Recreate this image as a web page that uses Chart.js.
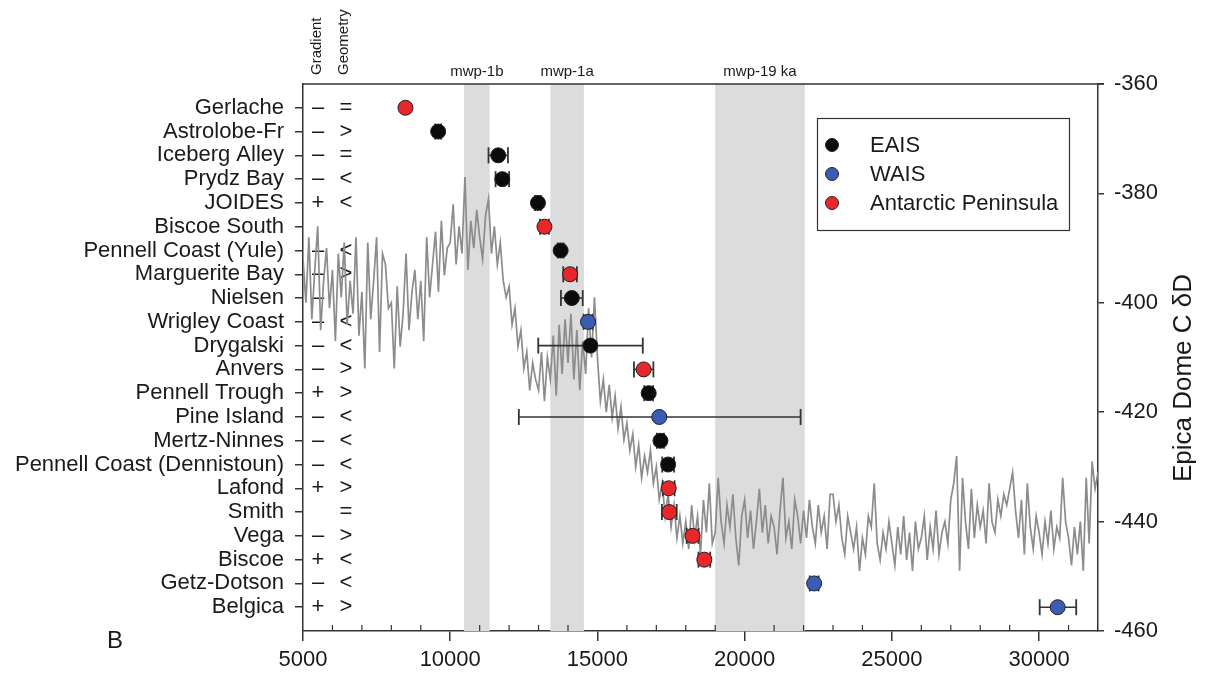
<!DOCTYPE html>
<html>
<head>
<meta charset="utf-8">
<script src="https://cdn.jsdelivr.net/npm/chart.js@4.4.1/dist/chart.umd.min.js"></script>
<style>
    html, body { margin: 0; padding: 0; background: #fff; }
    #wrap { width: 1211px; height: 677px; }
</style>
</head>
<body>
<div id="wrap"><canvas id="RetreatChart" width="1211" height="677"></canvas></div>
<script>
// sites, top to bottom
const sites = ["Gerlache", "Astrolobe-Fr", "Iceberg Alley", "Prydz Bay", "JOIDES", "Biscoe South",
    "Pennell Coast (Yule)", "Marguerite Bay", "Nielsen", "Wrigley Coast", "Drygalski", "Anvers",
    "Pennell Trough", "Pine Island", "Mertz-Ninnes", "Pennell Coast (Dennistoun)", "Lafond", "Smith",
    "Vega", "Biscoe", "Getz-Dotson", "Belgica"];
const siteRegion = ["AP", "EAIS", "EAIS", "EAIS", "EAIS", "AP", "EAIS", "AP", "EAIS", "WAIS", "EAIS", "AP",
    "EAIS", "WAIS", "EAIS", "EAIS", "AP", "AP", "AP", "AP", "WAIS", "WAIS"];
const siteAge = [8480, 9590, 11630, 11770, 12980, 13200, 13750, 14070, 14130, 14680, 14760, 16570,
    16740, 17100, 17140, 17400, 17420, 17440, 18230, 18630, 22360, 30630];
const errMinus = [0, 100, 330, 230, 100, 150, 100, 230, 370, 150, 1770, 330, 150, 4770, 120, 200, 200, 250, 200, 200, 150, 610];
const errPlus = [0, 100, 330, 230, 100, 150, 100, 230, 370, 150, 1780, 330, 150, 4800, 120, 200, 200, 250, 200, 200, 150, 630];
const gradient = ["–", "–", "–", "–", "+", "", "–", "–", "–", "–", "–", "–", "+", "–", "–", "–", "+", "", "–", "+", "–", "+"];
const geometry = ["=", ">", "=", "<", "<", "", "<", ">", "", "<", "<", ">", ">", "<", "<", "<", ">", "=", ">", "<", "<", ">"];

const regionKeys = ["EAIS", "WAIS", "AP"];
const regionNames = ["EAIS", "WAIS", "Antarctic Peninsula"];
const regionColors = ["#0b0b0b", "#3b5cb4", "#e8272b"];

// meltwater pulses
const bandStart = [10470, 13400, 19000];
const bandEnd = [11340, 14540, 22040];
const bandLabels = ["mwp-1b", "mwp-1a", "mwp-19 ka"];

// Epica Dome C deuterium record
const epicaAge = [
    5000, 5100, 5200, 5300, 5400, 5500, 5600, 5700, 5800, 5900,
    6000, 6100, 6200, 6300, 6400, 6500, 6600, 6700, 6800, 6900,
    7000, 7100, 7200, 7300, 7400, 7500, 7600, 7700, 7800, 7900,
    8000, 8100, 8200, 8300, 8400, 8500, 8600, 8700, 8800, 8900,
    9000, 9100, 9200, 9300, 9400, 9500, 9600, 9700, 9800, 9900,
    10000, 10100, 10200, 10300, 10400, 10500, 10600, 10700, 10800, 10900,
    11000, 11100, 11200, 11300, 11400, 11500, 11600, 11700, 11800, 11900,
    12000, 12100, 12200, 12300, 12400, 12500, 12600, 12700, 12800, 12900,
    13000, 13100, 13200, 13300, 13400, 13500, 13600, 13700, 13800, 13900,
    14000, 14100, 14200, 14300, 14400, 14500, 14600, 14700, 14800, 14900,
    15000, 15100, 15200, 15300, 15400, 15500, 15600, 15700, 15800, 15900,
    16000, 16100, 16200, 16300, 16400, 16500, 16600, 16700, 16800, 16900,
    17000, 17100, 17200, 17300, 17400, 17500, 17600, 17700, 17800, 17900,
    18000, 18100, 18200, 18300, 18400, 18500, 18600, 18700, 18800, 18900,
    19000, 19100, 19200, 19300, 19400, 19500, 19600, 19700, 19800, 19900,
    20000, 20100, 20200, 20300, 20400, 20500, 20600, 20700, 20800, 20900,
    21000, 21100, 21200, 21300, 21400, 21500, 21600, 21700, 21800, 21900,
    22000, 22100, 22200, 22300, 22400, 22500, 22600, 22700, 22800, 22900,
    23000, 23100, 23200, 23300, 23400, 23500, 23600, 23700, 23800, 23900,
    24000, 24100, 24200, 24300, 24400, 24500, 24600, 24700, 24800, 24900,
    25000, 25100, 25200, 25300, 25400, 25500, 25600, 25700, 25800, 25900,
    26000, 26100, 26200, 26300, 26400, 26500, 26600, 26700, 26800, 26900,
    27000, 27100, 27200, 27300, 27400, 27500, 27600, 27700, 27800, 27900,
    28000, 28100, 28200, 28300, 28400, 28500, 28600, 28700, 28800, 28900,
    29000, 29100, 29200, 29300, 29400, 29500, 29600, 29700, 29800, 29900,
    30000, 30100, 30200, 30300, 30400, 30500, 30600, 30700, 30800, 30900,
    31000, 31100, 31200, 31300, 31400, 31500, 31600, 31700, 31800, 31900,
    32000];
const epicaDD = [
    -392, -400, -388, -403, -394, -386, -405, -396, -390, -401,
    -394, -407, -391, -399, -389, -404, -396, -402, -388, -406,
    -398, -412, -389, -403, -396, -388, -409, -391, -393, -401,
    -400, -412, -397, -408, -402, -391, -405, -398, -394, -403,
    -396, -407, -388, -399, -393, -387, -398, -385, -395, -390,
    -389, -382, -393, -386, -391, -377, -394, -385, -390, -383,
    -388, -392, -384, -381, -391, -386, -393, -389, -396, -399,
    -397, -404, -401, -408, -405, -412, -409, -416, -411, -414,
    -416, -409, -418, -410, -414, -406, -417, -404, -413, -403,
    -411, -402, -414, -405, -416, -407, -413, -401, -410, -399,
    -410, -418, -414, -420, -415, -421, -417, -423, -419, -425,
    -422, -427, -424, -430, -426, -432, -428, -431, -427, -433,
    -430, -436, -433, -439, -435, -441, -437, -443, -439, -444,
    -440, -445, -437, -443, -439, -446, -436, -442, -433, -444,
    -442, -432, -440, -444, -437, -441, -435, -443, -448, -439,
    -436, -443, -438, -445, -440, -434, -442, -437, -444, -439,
    -441, -446, -438, -432, -443, -440, -445, -436, -439, -444,
    -438, -443, -436, -441, -444, -437, -442, -439, -445, -435,
    -435, -440, -437, -443, -446, -439, -442, -445, -441, -449,
    -443, -446, -439, -441, -433, -444, -447, -442, -445, -440,
    -444, -448, -441, -446, -439, -447, -442, -449, -440, -445,
    -443, -439, -447, -441, -445, -438, -446, -442, -440, -444,
    -436, -433, -428, -449, -432, -440, -445, -434, -443, -437,
    -441, -438, -444, -433, -440, -442, -436, -439, -435, -437,
    -434, -431, -438, -443, -436, -446, -433, -441, -445, -439,
    -442, -446, -440, -444, -438, -445, -441, -443, -432, -440,
    -443, -448, -441, -446, -440, -449, -432, -444, -429, -434,
    -431];

const ageTicks = [5000, 10000, 15000, 20000, 25000, 30000];
const ddTicks = [-360, -380, -400, -420, -440, -460];

const FONT = '"Liberation Sans", Arial, sans-serif';
const INK = "#1a1a1a";
const AXIS = "#333333";

function RetreatChart() {
    const ctx = document.getElementById("RetreatChart");

    const datasets = [];

    // ice core curve
    datasets.push({
        type: "line",
        data: epicaAge.map((a, i) => ({ x: a, y: epicaDD[i] })),
        yAxisID: "yd",
        borderColor: "#8c8c8c",
        borderWidth: 1.7,
        pointRadius: 0,
        tension: 0,
        order: 3,
    });

    // age error bars
    sites.forEach((s, i) => {
        if (!errMinus[i] && !errPlus[i]) return;
        datasets.push({
            type: "line",
            data: [{ x: siteAge[i] - errMinus[i], y: i }, { x: siteAge[i] + errPlus[i], y: i }],
            yAxisID: "y",
            borderColor: AXIS,
            borderWidth: 1.6,
            pointStyle: "line",
            pointRotation: 90,
            pointRadius: 8,
            pointBorderColor: AXIS,
            pointBorderWidth: 1.8,
            order: 2,
        });
    });

    // site markers by region
    regionKeys.forEach((r, k) => {
        datasets.push({
            type: "scatter",
            data: sites.map((s, i) => ({ x: siteAge[i], y: i })).filter((p, i) => siteRegion[i] === r),
            yAxisID: "y",
            backgroundColor: regionColors[k],
            borderColor: "#202020",
            borderWidth: 1,
            pointRadius: 7.5,
            order: 1,
        });
    });

    const decor = {
        id: "decor",
        beforeDatasetsDraw(chart) {
            const { ctx, chartArea: a, scales } = chart;
            const x = scales.x, y = scales.y;
            ctx.save();
            // shaded pulses
            ctx.fillStyle = "#dcdcdc";
            bandStart.forEach((b, i) => {
                const x0 = x.getPixelForValue(b), x1 = x.getPixelForValue(bandEnd[i]);
                ctx.fillRect(x0, a.top, x1 - x0, a.bottom - a.top);
            });
            // gradient / geometry columns
            ctx.fillStyle = INK;
            ctx.font = "22px " + FONT;
            ctx.textAlign = "center";
            ctx.textBaseline = "middle";
            sites.forEach((s, i) => {
                const yy = y.getPixelForValue(i);
                if (gradient[i]) ctx.fillText(gradient[i], a.left + 15, yy);
                if (geometry[i]) ctx.fillText(geometry[i], a.left + 43, yy);
            });
            ctx.restore();
        },
        afterDraw(chart) {
            const { ctx, chartArea: a, scales } = chart;
            const x = scales.x;
            ctx.save();
            ctx.strokeStyle = AXIS;
            ctx.lineWidth = 1.5;
            // top frame line
            ctx.beginPath();
            ctx.moveTo(a.left, a.top);
            ctx.lineTo(a.right + 6, a.top);
            ctx.stroke();
            // minor ticks pointing inward
            ctx.lineWidth = 1.2;
            ctx.beginPath();
            for (let v = 6000; v < 32000; v += 1000) {
                if (v % 5000 === 0) continue;
                const px = x.getPixelForValue(v);
                ctx.moveTo(px, a.bottom);
                ctx.lineTo(px, a.bottom - 6);
            }
            ctx.stroke();

            // pulse labels
            ctx.fillStyle = INK;
            ctx.font = "15px " + FONT;
            ctx.textAlign = "center";
            ctx.textBaseline = "middle";
            bandStart.forEach((b, i) => {
                const cx = x.getPixelForValue((b + bandEnd[i]) / 2);
                ctx.fillText(bandLabels[i], cx, a.top - 12);
            });

            // column headers
            ctx.font = "15px " + FONT;
            ctx.textAlign = "left";
            [["Gradient", a.left + 14], ["Geometry", a.left + 41]].forEach(([t, hx]) => {
                ctx.save();
                ctx.translate(hx, a.top - 9);
                ctx.rotate(-Math.PI / 2);
                ctx.fillText(t, 0, 0);
                ctx.restore();
            });

            // right axis title
            ctx.save();
            ctx.font = "26px " + FONT;
            ctx.textAlign = "center";
            ctx.translate(1184, 378);
            ctx.rotate(-Math.PI / 2);
            ctx.fillText("Epica Dome C δD", 0, 0);
            ctx.restore();

            // panel letter
            ctx.font = "24px " + FONT;
            ctx.textAlign = "center";
            ctx.fillText("B", 115, 641);

            // legend
            const lx = a.right - 281, ly = a.top + 34;
            ctx.lineWidth = 1.2;
            ctx.strokeStyle = AXIS;
            ctx.strokeRect(lx + 0.5, ly + 0.5, 252, 112);
            ctx.font = "22px " + FONT;
            ctx.textAlign = "left";
            regionNames.forEach((n, k) => {
                const ry = ly + 27 + k * 29;
                ctx.beginPath();
                ctx.arc(lx + 15, ry, 6.5, 0, Math.PI * 2);
                ctx.fillStyle = regionColors[k];
                ctx.fill();
                ctx.lineWidth = 1;
                ctx.strokeStyle = "#202020";
                ctx.stroke();
                ctx.fillStyle = INK;
                ctx.fillText(n, lx + 53, ry + 1);
            });
            ctx.restore();
        },
    };

    new Chart(ctx, {
        data: { datasets },
        options: {
            responsive: false,
            animation: false,
            layout: { padding: { top: 84, left: 0, right: 0, bottom: 0 } },
            scales: {
                x: {
                    type: "linear",
                    position: "bottom",
                    min: 5000,
                    max: 32000,
                    afterBuildTicks: s => { s.ticks = ageTicks.map(v => ({ value: v })); },
                    ticks: {
                        callback: v => String(v),
                        font: { family: FONT, size: 22 },
                        color: INK,
                        padding: 6,
                        maxRotation: 0,
                    },
                    grid: { drawOnChartArea: false, tickLength: 10, color: AXIS, lineWidth: 1.5 },
                    border: { color: AXIS, width: 1.5 },
                    afterFit: s => { s.height = 46; },
                },
                y: {
                    type: "linear",
                    position: "left",
                    min: -1,
                    max: 22,
                    reverse: true,
                    afterBuildTicks: s => { s.ticks = sites.map((n, i) => ({ value: i })); },
                    ticks: {
                        callback: v => sites[v] ?? "",
                        font: { family: FONT, size: 22 },
                        color: INK,
                        padding: 11,
                        autoSkip: false,
                    },
                    grid: { drawOnChartArea: false, tickLength: 8, color: AXIS, lineWidth: 1.5 },
                    border: { color: AXIS, width: 1.5 },
                    afterFit: s => { s.width = 303; },
                },
                yd: {
                    type: "linear",
                    position: "right",
                    min: -460,
                    max: -360,
                    afterBuildTicks: s => { s.ticks = ddTicks.map(v => ({ value: v })); },
                    ticks: {
                        callback: v => String(v),
                        font: { family: FONT, size: 22 },
                        color: INK,
                        padding: 10,
                    },
                    grid: { drawOnChartArea: false, tickLength: 6, color: AXIS, lineWidth: 1.5 },
                    border: { color: AXIS, width: 1.5 },
                    afterFit: s => { s.width = 113; },
                },
            },
            plugins: {
                legend: { display: false },
                tooltip: { enabled: false },
            },
        },
        plugins: [decor],
    });
}

RetreatChart();
</script>
</body>
</html>
